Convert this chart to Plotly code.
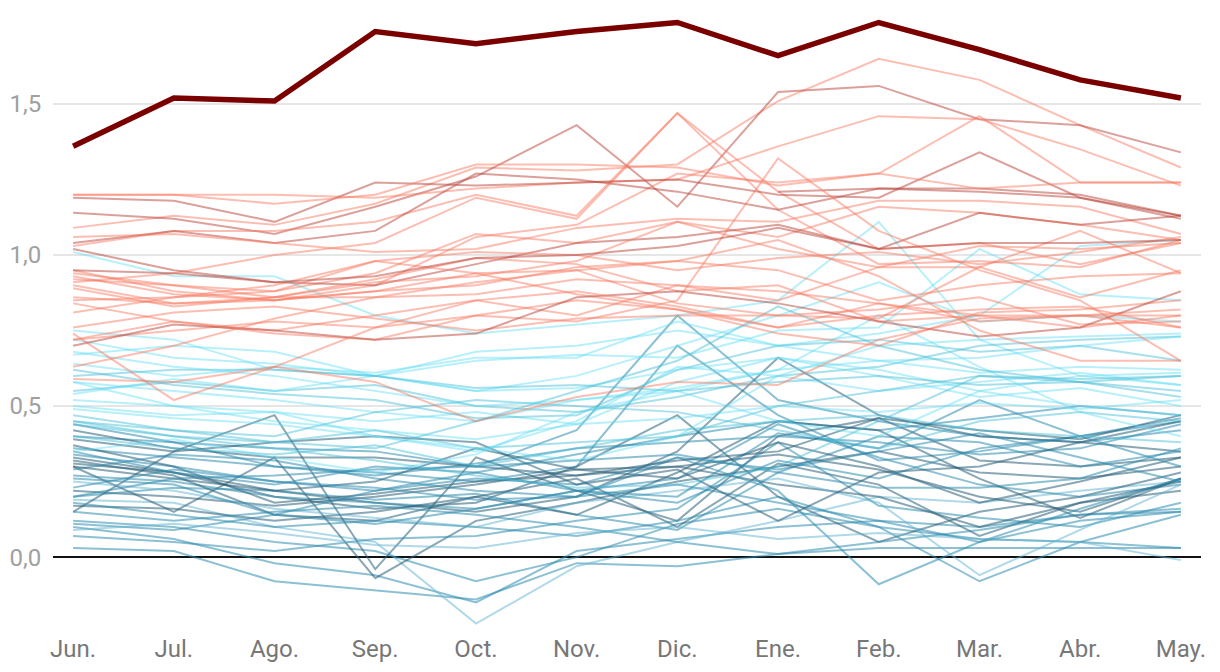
import plotly.graph_objects as go

months = ["Jun.", "Jul.", "Ago.", "Sep.", "Oct.", "Nov.", "Dic.", "Ene.", "Feb.", "Mar.", "Abr.", "May."]

highlight = [1.36, 1.52, 1.51, 1.74, 1.70, 1.74, 1.77, 1.66, 1.77, 1.68, 1.58, 1.52]

N = None
red_series = [
    [1.09, 1.13, 1.10, 1.17, 1.29, 1.28, 1.30, 1.51, 1.65, 1.58, 1.43, 1.29],
    [1.14, 1.12, 1.07, 1.16, 1.26, 1.43, 1.16, 1.54, 1.56, 1.45, 1.43, 1.34],
    [1.03, 1.08, 1.08, 1.11, 1.20, 1.13, 1.47, 1.21, 1.02, 1.04, 0.97, 1.04],
    [0.91, 0.94, 1.00, 1.04, 1.19, 1.12, 1.47, 1.15, 0.97, 0.98, 0.96, 1.05],
    [1.20, 1.20, 1.20, 1.19, 1.22, 1.24, 1.25, 1.36, 1.46, 1.45, 1.35, 1.23],
    [0.95, 0.88, 0.85, 0.90, 1.06, 1.10, 1.27, 1.24, 1.27, 1.46, 1.24, 1.24],
    [1.19, 1.18, 1.11, 1.24, 1.23, 1.24, 1.25, 1.20, 1.19, 1.34, 1.19, 1.13],
    [1.04, 1.08, 1.04, 1.08, 1.27, 1.25, 1.21, 1.15, 1.22, 1.22, 1.20, 1.13],
    [1.06, 1.07, 1.04, 1.01, 1.02, 1.09, 1.12, 1.11, 1.18, 1.18, 1.16, 1.07],
    [0.85, 0.86, 0.88, 0.94, 1.07, 1.04, 1.11, 1.06, 1.16, 1.14, 1.10, 1.05],
    [1.02, 0.95, 0.91, 0.90, 0.97, 1.04, 1.06, 1.10, 1.02, 1.14, 1.10, 1.13],
    [N, N, N, N, N, N, N, 1.21, 1.22, 1.21, 1.19, 1.12],
    [0.72, 0.75, 0.78, 0.76, 0.80, 0.78, 0.85, 1.32, 1.08, 0.95, 0.85, 0.65],
    [0.93, 0.87, 0.85, 0.88, 0.94, 0.95, 0.84, 0.80, 0.79, 0.96, 0.86, 0.95],
    [0.90, 0.84, 0.86, 0.91, 0.93, 0.98, 1.11, 1.02, 0.96, 1.03, 1.02, 1.04],
    [0.89, 0.83, 0.86, 0.92, 0.99, 0.97, 0.88, 0.90, 0.78, 0.80, 0.80, 0.82],
    [0.84, 0.78, 0.75, 0.80, 0.85, 0.80, 0.90, 0.85, 0.96, 0.96, 1.08, 0.94],
    [0.81, 0.86, 0.90, 0.98, 0.94, 0.87, 0.82, 0.76, 0.84, 0.80, 0.76, 0.80],
    [0.76, 0.81, 0.83, 0.79, 0.75, 0.79, 0.80, 0.80, 0.82, 0.86, 0.77, 0.78],
    [0.72, 0.78, 0.74, 0.72, 0.80, 0.85, 0.82, 0.74, 0.70, 0.81, 0.82, 0.85],
    [0.70, 0.77, 0.75, 0.72, 0.74, 0.86, 0.88, 0.84, 0.78, 0.73, 0.76, 0.88],
    [0.74, 0.52, 0.63, 0.76, 0.85, 0.88, 0.83, 0.76, 0.80, 0.82, 0.83, 0.76],
    [0.59, 0.58, 0.63, 0.58, 0.45, 0.53, 0.58, 0.57, 0.72, 0.79, 0.80, 0.80],
    [0.94, 0.90, 0.86, 0.86, 0.87, 0.92, 0.90, 0.88, 0.84, 0.78, 0.80, 0.76],
    [0.86, 0.84, 0.85, 0.88, 0.90, 0.96, 0.98, 1.05, 0.93, 0.75, 0.65, 0.65],
    [0.63, 0.70, 0.79, 0.86, 0.91, 0.95, 0.98, 0.95, 0.85, 0.90, 0.93, 0.94],
    [0.92, 0.90, 0.88, 0.98, 1.01, 1.00, 0.95, 0.99, 1.01, 0.97, 1.01, 1.06],
    [0.95, 0.94, 0.91, 0.93, 0.99, 1.00, 1.03, 1.09, 1.02, 1.04, 1.04, 1.05],
    [1.20, 1.20, 1.17, 1.20, 1.30, 1.30, 1.29, 1.23, 1.27, 1.22, 1.24, 1.24],
]
red_shade = [0, 1, 0, 0, 0, 0, 1, 1, 0, 0, 1, 1, 0, 0, 0, 0, 0, 0, 0, 0, 1, 0, 0, 0, 0, 0, 0, 1, 0]

cyan_series = [
    [1.01, 0.93, 0.93, 0.80, 0.74, 0.77, 0.80, 0.85, 1.11, 0.72, 0.60, 0.57],
    [0.75, 0.72, 0.62, 0.60, 0.55, 0.60, 0.70, 0.80, 0.91, 0.78, 0.80, 0.78],
    [0.67, 0.70, 0.68, 0.60, 0.65, 0.67, 0.66, 0.75, 0.76, 1.02, 0.87, 0.85],
    [0.64, 0.60, 0.63, 0.61, 0.66, 0.66, 0.78, 0.70, 0.74, 0.80, 1.03, 1.05],
    [0.55, 0.58, 0.55, 0.57, 0.50, 0.48, 0.53, 0.60, 0.63, 0.70, 0.72, 0.73],
    [0.52, 0.50, 0.48, 0.45, 0.48, 0.44, 0.58, 0.66, 0.62, 0.55, 0.60, 0.61],
    [0.50, 0.47, 0.48, 0.40, 0.35, 0.45, 0.63, 0.60, 0.55, 0.58, 0.61, 0.57],
    [0.45, 0.42, 0.38, 0.42, 0.36, 0.38, 0.40, 0.50, 0.55, 0.60, 0.58, 0.53],
    [0.58, 0.55, 0.52, 0.48, 0.45, 0.52, 0.55, 0.45, 0.40, 0.55, 0.50, 0.47],
    [0.62, 0.57, 0.54, 0.52, 0.46, 0.47, 0.62, 0.70, 0.72, 0.68, 0.70, 0.65],
    [0.72, 0.66, 0.64, 0.60, 0.55, 0.56, 0.62, 0.66, 0.60, 0.53, 0.56, 0.50],
    [0.49, 0.46, 0.44, 0.40, 0.36, 0.32, 0.40, 0.60, 0.70, 0.72, 0.73, 0.74],
    [0.54, 0.59, 0.55, 0.60, 0.68, 0.70, 0.75, 0.70, 0.65, 0.61, 0.63, 0.62],
    [0.47, 0.42, 0.40, 0.48, 0.52, 0.50, 0.48, 0.42, 0.36, 0.45, 0.48, 0.45],
    [0.40, 0.36, 0.34, 0.37, 0.30, 0.36, 0.42, 0.45, 0.47, 0.42, 0.40, 0.38],
    [0.58, 0.50, 0.45, 0.42, 0.39, 0.44, 0.46, 0.50, 0.48, 0.51, 0.49, 0.52],
    [0.60, 0.62, 0.62, 0.60, 0.56, 0.57, 0.55, 0.58, 0.60, 0.57, 0.58, 0.60],
    [0.68, 0.63, 0.60, 0.55, 0.50, 0.52, 0.56, 0.62, 0.65, 0.66, 0.70, 0.73],
    [0.35, 0.39, 0.33, 0.28, 0.34, 0.48, 0.55, 0.62, 0.80, 0.63, 0.48, 0.40],
    [0.44, 0.40, 0.36, 0.32, 0.27, 0.23, 0.24, 0.30, 0.45, 0.60, 0.59, 0.60],
    [0.45, 0.40, 0.38, 0.36, 0.45, 0.55, 0.65, 0.83, 0.70, 0.62, 0.58, 0.55],
]
cyan_shade = [0, 0, 0, 0, 1, 0, 0, 1, 0, 1, 0, 0, 0, 1, 1, 0, 1, 0, 0, 1, 1]

teal_series = [
    [0.03, 0.02, -0.08, -0.11, -0.14, -0.02, -0.03, 0.01, 0.03, 0.03, 0.03, 0.03],
    [0.10, 0.06, -0.02, -0.06, -0.15, 0.02, 0.06, 0.10, 0.12, 0.10, 0.14, 0.16],
    [0.19, 0.18, 0.10, 0.05, -0.22, -0.03, 0.05, 0.12, 0.20, 0.18, 0.22, 0.25],
    [0.12, 0.10, 0.05, 0.02, -0.08, 0.00, 0.11, 0.16, 0.10, 0.06, 0.05, 0.03],
    [0.15, 0.35, 0.47, -0.04, 0.33, 0.22, 0.12, 0.40, 0.46, 0.32, 0.30, 0.33],
    [0.30, 0.15, 0.33, -0.07, 0.12, 0.18, 0.25, 0.30, 0.35, 0.28, 0.26, 0.30],
    [0.40, 0.38, 0.36, 0.35, 0.30, 0.42, 0.80, 0.52, 0.45, 0.40, 0.38, 0.42],
    [0.36, 0.33, 0.30, 0.28, 0.25, 0.30, 0.70, 0.47, 0.32, 0.35, 0.40, 0.46],
    [0.33, 0.28, 0.22, 0.18, 0.15, 0.20, 0.35, 0.66, 0.47, 0.40, 0.38, 0.35],
    [0.31, 0.28, 0.20, 0.16, 0.18, 0.30, 0.47, 0.20, 0.05, 0.15, 0.20, 0.28],
    [0.34, 0.30, 0.25, 0.22, 0.28, 0.34, 0.40, 0.45, 0.42, 0.46, 0.50, 0.47],
    [0.27, 0.25, 0.20, 0.18, 0.16, 0.22, 0.26, 0.44, 0.33, 0.24, 0.20, 0.24],
    [0.22, 0.20, 0.17, 0.20, 0.24, 0.29, 0.30, 0.34, 0.29, 0.20, 0.15, 0.26],
    [0.20, 0.23, 0.22, 0.19, 0.21, 0.14, 0.09, 0.28, 0.40, 0.38, 0.30, 0.35],
    [0.17, 0.16, 0.12, 0.15, 0.20, 0.26, 0.10, 0.31, 0.24, 0.07, 0.18, 0.25],
    [0.07, 0.05, 0.02, 0.06, 0.07, 0.12, 0.16, 0.38, 0.17, 0.13, 0.10, 0.18],
    [0.32, 0.27, 0.14, 0.12, 0.20, 0.14, 0.28, 0.45, 0.42, 0.26, 0.13, 0.26],
    [0.37, 0.30, 0.18, 0.21, 0.25, 0.27, 0.30, 0.24, 0.20, 0.10, 0.18, 0.22],
    [0.44, 0.38, 0.30, 0.27, 0.31, 0.36, 0.38, 0.40, 0.38, 0.34, 0.36, 0.44],
    [0.29, 0.34, 0.32, 0.26, 0.22, 0.20, 0.24, 0.18, 0.12, 0.05, 0.16, 0.26],
    [0.11, 0.09, 0.14, 0.22, 0.26, 0.24, 0.33, 0.22, -0.09, 0.05, 0.12, 0.15],
    [0.18, 0.14, 0.10, 0.12, 0.10, 0.07, 0.12, 0.20, 0.10, -0.08, 0.05, 0.14],
    [0.25, 0.22, 0.16, 0.13, 0.10, 0.18, 0.22, 0.26, 0.18, -0.06, 0.09, 0.24],
    [0.35, 0.28, 0.24, 0.30, 0.28, 0.22, 0.18, 0.32, 0.26, 0.36, 0.40, 0.45],
    [0.30, 0.26, 0.22, 0.25, 0.36, 0.29, 0.26, 0.38, 0.30, 0.18, 0.25, 0.33],
    [0.23, 0.29, 0.25, 0.23, 0.19, 0.20, 0.33, 0.29, 0.35, 0.41, 0.33, 0.25],
    [0.39, 0.35, 0.38, 0.40, 0.38, 0.24, 0.29, 0.12, 0.28, 0.30, 0.38, 0.45],
    [0.15, 0.12, 0.15, 0.17, 0.14, 0.10, 0.05, 0.01, 0.05, 0.09, 0.14, 0.15],
    [0.26, 0.24, 0.14, 0.11, 0.16, 0.22, 0.20, 0.41, 0.36, 0.52, 0.40, 0.30],
    [0.42, 0.36, 0.33, 0.33, 0.30, 0.27, 0.32, 0.35, 0.46, 0.42, 0.39, 0.47],
    [0.20, 0.26, 0.27, 0.29, 0.30, 0.32, 0.34, 0.28, 0.23, 0.23, 0.26, 0.36],
    [0.09, 0.11, 0.08, 0.04, 0.03, 0.08, 0.10, 0.06, 0.08, 0.06, 0.05, -0.01],
]
teal_shade = [1, 1, 0, 1, 2, 2, 1, 1, 2, 2, 1, 1, 2, 1, 2, 1, 2, 2, 1, 1, 1, 1, 0, 1, 2, 1, 2, 1, 1, 2, 1, 0]

red_colors = ["rgba(248,120,95,0.48)", "rgba(185,65,55,0.5)"]
cyan_colors = ["rgba(95,222,245,0.45)", "rgba(70,190,215,0.48)"]
teal_colors = ["rgba(95,180,210,0.5)", "rgba(45,140,175,0.55)", "rgba(40,95,120,0.55)"]

fig = go.Figure()

def add_group(series, shades, palette):
    for vals, s in zip(series, shades):
        fig.add_trace(go.Scatter(
            x=months, y=vals, mode="lines",
            line=dict(color=palette[s], width=2),
            hoverinfo="skip", showlegend=False, connectgaps=False,
        ))

add_group(teal_series, teal_shade, teal_colors)
add_group(cyan_series, cyan_shade, cyan_colors)
add_group(red_series, red_shade, red_colors)

fig.add_trace(go.Scatter(
    x=months, y=highlight, mode="lines",
    line=dict(color="#7a0000", width=5.5),
    hoverinfo="skip", showlegend=False,
))

fig.update_layout(
    width=1220, height=672,
    margin=dict(l=45, r=27, t=0, b=48),
    paper_bgcolor="white", plot_bgcolor="white",
    separators=",.",
    font=dict(family="Roboto", size=24),
    xaxis=dict(
        type="category", range=[-0.2, 11.2],
        showgrid=False, zeroline=False, showline=False,
        ticks="", automargin=False,
        tickfont=dict(color="#777777", size=24, family="Roboto"),
    ),
    yaxis=dict(
        range=[-0.248, 1.818],
        tickvals=[0, 0.5, 1.0, 1.5], tickformat=".1f",
        showgrid=True, gridcolor="#e6e6e6", gridwidth=2,
        zeroline=True, zerolinecolor="#111111", zerolinewidth=2,
        showline=False, automargin=False,
        ticks="outside", ticklen=6, tickcolor="rgba(0,0,0,0)",
        tickfont=dict(color="#a0a0a0", size=24, family="Roboto"),
    ),
)

fig.write_html("out.html")
